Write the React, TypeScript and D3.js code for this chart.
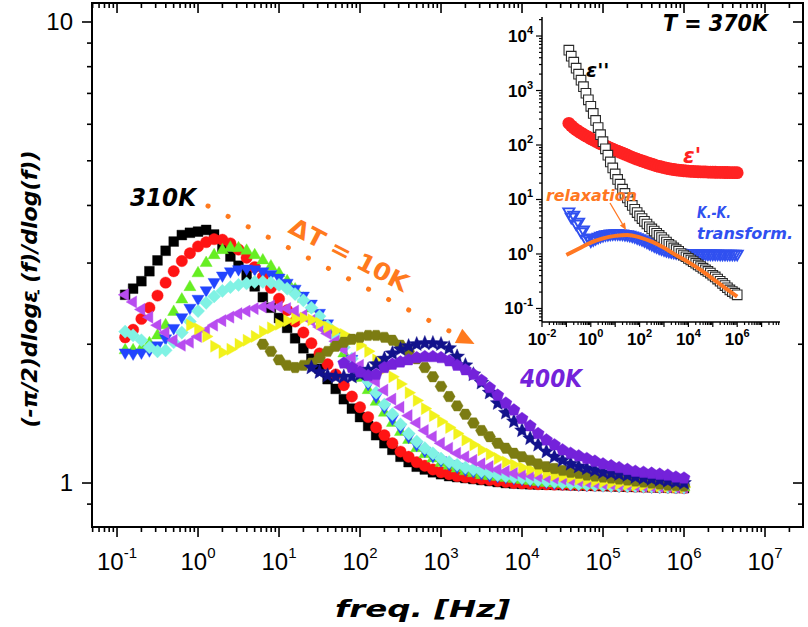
import React from "react";
import * as d3 from "d3";

// ---------- data ----------
// measurement frequencies (Hz), 0.126 Hz .. 1 MHz
const freqs = [
  0.126, 0.158, 0.2, 0.251, 0.316, 0.398, 0.501, 0.631, 0.794,
  1, 1.26, 1.58, 2, 2.51, 3.16, 3.98, 5.01, 6.31, 7.94,
  10, 12.6, 15.8, 20, 25.1, 31.6, 39.8, 50.1, 63.1, 79.4,
  100, 126, 158, 200, 251, 316, 398, 501, 631, 794,
  1e3, 1.26e3, 1.58e3, 2e3, 2.51e3, 3.16e3, 3.98e3, 5.01e3, 6.31e3, 7.94e3,
  1e4, 1.26e4, 1.58e4, 2e4, 2.51e4, 3.16e4, 3.98e4, 5.01e4, 6.31e4, 7.94e4,
  1e5, 1.26e5, 1.58e5, 2e5, 2.51e5, 3.16e5, 3.98e5, 5.01e5, 6.31e5, 7.94e5,
  1e6,
];

const v310 = [
  2.56, 2.64, 2.74, 2.88, 3.04, 3.19, 3.34, 3.45, 3.49,
  3.51, 3.54, 3.46, 3.25, 3.1, 2.96, 2.82, 2.67, 2.53, 2.4,
  2.28, 2.17, 2.06, 1.96, 1.86, 1.77, 1.68, 1.6, 1.52, 1.45,
  1.39, 1.33, 1.27, 1.22, 1.18, 1.14, 1.11, 1.085, 1.07, 1.055,
  1.045, 1.035, 1.03, 1.025, 1.02, 1.015, 1.01, 1.005, 1.0, 0.998,
  0.996, 0.994, 0.993, 0.992, 0.991, 0.99, 0.989, 0.988, 0.987, 0.986,
  0.985, 0.984, 0.983, 0.982, 0.981, 0.98, 0.979, 0.978, 0.977, 0.976,
  0.975,
];
const v320 = [
  2.07, 2.15, 2.27, 2.4, 2.55, 2.72, 2.88, 3.03, 3.15,
  3.26, 3.33, 3.38, 3.37, 3.31, 3.21, 3.08, 2.94, 2.8, 2.65,
  2.51, 2.37, 2.24, 2.12, 2.01, 1.91, 1.81, 1.72, 1.63, 1.54,
  1.46, 1.39, 1.32, 1.27, 1.22, 1.17, 1.14, 1.11, 1.09, 1.07,
  1.055, 1.045, 1.035, 1.03, 1.025, 1.02, 1.015, 1.01, 1.005, 1.0,
  0.998, 0.996, 0.994, 0.993, 0.992, 0.991, 0.99, 0.989, 0.988, 0.987,
  0.986, 0.985, 0.984, 0.983, 0.982, 0.981, 0.98, 0.979, 0.978, 0.977,
  0.976,
];
const v330 = [
  1.94, 1.94, 1.96, 2.01, 2.09, 2.2, 2.35, 2.5, 2.66,
  2.85, 3.0, 3.12, 3.2, 3.24, 3.23, 3.19, 3.12, 3.04, 2.95,
  2.85, 2.74, 2.63, 2.51, 2.39, 2.27, 2.15, 2.03, 1.91, 1.8,
  1.69, 1.59, 1.5, 1.42, 1.35, 1.29, 1.24, 1.19, 1.155, 1.13,
  1.105, 1.09, 1.075, 1.06, 1.05, 1.04, 1.035, 1.03, 1.025, 1.02,
  1.015, 1.01, 1.005, 1.0, 0.998, 0.996, 0.994, 0.992, 0.99, 0.989,
  0.988, 0.987, 0.986, 0.985, 0.984, 0.983, 0.982, 0.981, 0.98, 0.979,
  0.978,
];
const v340 = [
  1.92, 1.91, 1.92, 1.94, 1.99, 2.06, 2.17, 2.29, 2.4,
  2.51, 2.62, 2.73, 2.82, 2.88, 2.91, 2.92, 2.91, 2.88, 2.84,
  2.79, 2.72, 2.64, 2.55, 2.45, 2.34, 2.22, 2.1, 1.98, 1.86,
  1.75, 1.64, 1.54, 1.46, 1.38, 1.32, 1.26, 1.21, 1.175, 1.145,
  1.12, 1.1, 1.085, 1.07, 1.06, 1.05, 1.04, 1.035, 1.03, 1.025,
  1.02, 1.015, 1.01, 1.005, 1.0, 0.998, 0.995, 0.993, 0.991, 0.99,
  0.989, 0.988, 0.987, 0.986, 0.985, 0.984, 0.983, 0.982, 0.981, 0.98,
  0.979,
];
const v350 = [
  2.13, 2.09, 2.04, 1.97, 1.93, 1.94, 2.02, 2.12, 2.24,
  2.36, 2.46, 2.54, 2.61, 2.66, 2.69, 2.71, 2.73, 2.73, 2.72,
  2.69, 2.64, 2.57, 2.49, 2.4, 2.3, 2.19, 2.08, 1.97, 1.86,
  1.76, 1.66, 1.57, 1.48, 1.41, 1.34, 1.28, 1.23, 1.19, 1.16,
  1.13, 1.11, 1.095, 1.08, 1.07, 1.06, 1.05, 1.04, 1.035, 1.03,
  1.025, 1.02, 1.015, 1.01, 1.005, 1.0, 0.997, 0.994, 0.992, 0.99,
  0.988, 0.987, 0.986, 0.985, 0.984, 0.983, 0.982, 0.981, 0.98, 0.979,
  0.978,
];
const v360 = [
  2.56, 2.47, 2.38, 2.29, 2.2, 2.12, 2.04, 1.99, 2.02,
  2.08, 2.14, 2.2, 2.25, 2.29, 2.33, 2.36, 2.39, 2.41, 2.42,
  2.41, 2.39, 2.36, 2.31, 2.25, 2.18, 2.11, 2.03, 1.95, 1.87,
  1.8, 1.73, 1.66, 1.59, 1.52, 1.46, 1.4, 1.35, 1.3, 1.26,
  1.22, 1.19, 1.16, 1.14, 1.12, 1.1, 1.085, 1.07, 1.06, 1.05,
  1.045, 1.04, 1.035, 1.03, 1.025, 1.02, 1.015, 1.01, 1.005, 1.0,
  0.997, 0.994, 0.991, 0.989, 0.987, 0.985, 0.983, 0.982, 0.981, 0.98,
  0.979,
];
// 370K starts at 0.794 Hz
const v370 = [
  2.2,
  2.16, 2.08, 1.98, 1.92, 1.95, 2.0, 2.04, 2.08, 2.13, 2.17,
  2.21, 2.25, 2.27, 2.28, 2.26, 2.22, 2.18, 2.14, 2.1, 2.05,
  1.99, 1.93, 1.85, 1.77, 1.7, 1.64, 1.57, 1.51, 1.45, 1.4,
  1.36, 1.32, 1.28, 1.24, 1.21, 1.18, 1.155, 1.13, 1.11, 1.095,
  1.08, 1.07, 1.06, 1.05, 1.04, 1.035, 1.03, 1.02, 1.015, 1.01,
  1.005, 1.0, 0.997, 0.994, 0.991, 0.989, 0.987, 0.985, 0.983, 0.981,
  0.98,
];
// 380K starts at 6.31 Hz
const v380 = [
  2.0, 1.93,
  1.85, 1.8, 1.78, 1.8, 1.82, 1.87, 1.93, 1.98, 2.02, 2.05,
  2.07, 2.09, 2.09, 2.07, 2.04, 1.99, 1.93, 1.86, 1.78, 1.7,
  1.62, 1.54, 1.47, 1.41, 1.35, 1.3, 1.26, 1.22, 1.19, 1.16,
  1.14, 1.12, 1.1, 1.085, 1.075, 1.065, 1.055, 1.05, 1.04, 1.035,
  1.03, 1.025, 1.02, 1.015, 1.01, 1.005, 1.0, 0.995, 0.99, 0.988,
  0.985,
];
// 390K starts at 25.1 Hz
const v390 = [
  1.78, 1.74, 1.71, 1.7, 1.7, 1.7,
  1.72, 1.76, 1.81, 1.86, 1.91, 1.95, 1.98, 2.0, 2.01, 2.01,
  2.0, 1.96, 1.88, 1.8, 1.72, 1.65, 1.57, 1.49, 1.42, 1.36,
  1.3, 1.25, 1.21, 1.17, 1.14, 1.12, 1.1, 1.085, 1.075, 1.065,
  1.055, 1.05, 1.045, 1.04, 1.03, 1.025, 1.02, 1.015, 1.01, 1.005,
  1.0,
];
// 400K starts at 63.1 Hz
const v400 = [
  1.82, 1.78,
  1.74, 1.71, 1.72, 1.78, 1.81, 1.83, 1.85, 1.87, 1.88, 1.88,
  1.87, 1.84, 1.8, 1.76, 1.72, 1.67, 1.61, 1.55, 1.49, 1.44,
  1.38, 1.33, 1.28, 1.24, 1.21, 1.18, 1.16, 1.145, 1.13, 1.115,
  1.1, 1.09, 1.08, 1.07, 1.06, 1.055, 1.05, 1.045, 1.04, 1.03,
  1.025,
];

const seriesNames = ["310K", "320K", "330K", "340K", "350K", "360K", "370K", "380K", "390K", "400K"];
const seriesValues = [v310, v320, v330, v340, v350, v360, v370, v380, v390, v400];
const seriesStartIndex = [0, 0, 0, 0, 0, 0, 8, 17, 23, 27];
const seriesColors = ["#000000", "#FF1414", "#66EE22", "#2244FF", "#80F2E4", "#B84CF0", "#F2F21C", "#7C7C12", "#12128C", "#7422DA"];
const seriesShapes = ["square", "circle", "up", "down", "diamond", "left", "right", "hexagon", "star", "pentagon"];

// inset, T = 370K
const insetEps2 = [
  5500, 4270, 3310, 2570, 1995, 1550, 1175, 891, 676,
  513, 380, 282, 209, 155, 115, 85, 65, 49, 38,
  29.5, 23.4, 19.1, 15.5, 12.9, 10.7, 9.1, 7.8, 6.6, 5.75,
  5.0, 4.47, 3.98, 3.55, 3.16, 2.88, 2.63, 2.4, 2.19, 2.0,
  1.82, 1.66, 1.51, 1.41, 1.29, 1.2, 1.12, 1.02, 0.955, 0.89,
  0.83, 0.776, 0.724, 0.676, 0.631, 0.589, 0.55, 0.513, 0.479, 0.447,
  0.407, 0.38, 0.347, 0.316, 0.288, 0.263, 0.24, 0.219, 0.204, 0.191,
  0.178,
];
const insetEps1 = [
  250, 225, 205, 190, 177, 166, 156, 147, 139,
  131, 124, 117, 111, 106, 101, 96, 92, 88, 84,
  80, 77, 74, 71, 68, 65, 62, 59.5, 57, 55,
  53, 51, 49.5, 47.5, 46, 44.5, 43, 41.5, 40.5, 39.5,
  38.5, 37.5, 36.8, 36.1, 35.5, 35, 34.5, 34.1, 33.7, 33.4,
  33.1, 32.9, 32.7, 32.5, 32.3, 32.2, 32.1, 32, 31.9, 31.8,
  31.7, 31.6, 31.5, 31.5, 31.4, 31.3, 31.3, 31.2, 31.2, 31.1,
  31,
];
const insetKK = [
  6.0, 4.8, 5.2, 3.6, 3.9, 2.6, 2.8, 1.9, 2.0,
  1.75, 1.85, 1.95, 2.05, 2.15, 2.22, 2.28, 2.32, 2.35, 2.37,
  2.38, 2.38, 2.37, 2.35, 2.32, 2.28, 2.23, 2.17, 2.1, 2.02,
  1.94, 1.86, 1.77, 1.68, 1.6, 1.52, 1.44, 1.37, 1.31, 1.26,
  1.21, 1.17, 1.14, 1.11, 1.09, 1.07, 1.06, 1.05, 1.04, 1.035,
  1.03, 1.025, 1.02, 1.02, 1.02, 1.015, 1.015, 1.015, 1.01, 1.01,
  1.01, 1.01, 1.01, 1.005, 1.005, 1.005, 1.0, 1.0, 1.0, 1.0,
  1.0,
];
const relaxFreqs = [0.1, 0.316, 1, 3.16, 10, 31.6, 100, 316, 1e3, 3.16e3, 1e4, 3.16e4, 1e5, 3.16e5, 1e6];
const relaxVals = [0.96, 1.25, 1.62, 1.93, 2.15, 2.24, 2.02, 1.68, 1.3, 0.95, 0.71, 0.51, 0.35, 0.24, 0.165];

const mainXDecades = [-1, 0, 1, 2, 3, 4, 5, 6, 7];
const mainYLabels = [1, 10];
const insetXLabelDecades = [-2, 0, 2, 4, 6];
const insetYLabelDecades = [-1, 0, 1, 2, 3, 4];

// ---------- scales ----------
const x = d3.scaleLog().domain([10 ** -1.309, 10 ** 7.469]).range([92, 803]);
const y = d3.scaleLog().domain([10 ** -0.0954, 10 ** 1.0412]).range([527, 3]);
const xi = d3.scaleLog().domain([1e-2, 10 ** 7.754]).range([542, 780]);
const yi = d3.scaleLog().domain([10 ** -1.248, 10 ** 4.349]).range([322, 17]);

// ---------- symbols ----------
const deg = Math.PI / 180;
function polyType(n: number, rot: number) {
  return {
    draw(ctx: any, r: number) {
      for (let k = 0; k < n; k++) {
        const a = rot + (k * 2 * Math.PI) / n;
        const px = r * Math.cos(a);
        const py = r * Math.sin(a);
        if (k === 0) ctx.moveTo(px, py);
        else ctx.lineTo(px, py);
      }
      ctx.closePath();
    },
  };
}
const shapeTypes: Record<string, any> = {
  square: { draw(ctx: any, r: number) { ctx.rect(-r, -r, 2 * r, 2 * r); } },
  circle: { draw(ctx: any, r: number) { ctx.moveTo(r, 0); ctx.arc(0, 0, r, 0, 2 * Math.PI); } },
  up: polyType(3, -90 * deg),
  down: polyType(3, 90 * deg),
  left: polyType(3, 180 * deg),
  right: polyType(3, 0),
  diamond: polyType(4, -90 * deg),
  hexagon: polyType(6, 0),
  pentagon: polyType(5, -90 * deg),
  star: {
    draw(ctx: any, r: number) {
      for (let k = 0; k < 10; k++) {
        const rr = k % 2 ? r * 0.45 : r;
        const a = -90 * deg + k * 36 * deg;
        const px = rr * Math.cos(a);
        const py = rr * Math.sin(a);
        if (k === 0) ctx.moveTo(px, py);
        else ctx.lineTo(px, py);
      }
      ctx.closePath();
    },
  },
};
const shapeRadius: Record<string, number> = {
  square: 4.9, circle: 5.7, up: 7.0, down: 7.0, diamond: 6.6, left: 7.0, right: 7.0, hexagon: 6.0, star: 7.8, pentagon: 6.4,
};
const symPath = (shape: string, r: number) => d3.symbol().type(shapeTypes[shape]).size(r)() as string;

function logTicks(lo: number, hi: number) {
  const out: { v: number; major: boolean }[] = [];
  for (let e = Math.floor(Math.log10(lo)) - 1; e <= Math.ceil(Math.log10(hi)) + 1; e++) {
    for (let m = 1; m <= 9; m++) {
      const v = m * 10 ** e;
      if (v >= lo * 0.999 && v <= hi * 1.001) out.push({ v, major: m === 1 });
    }
  }
  return out;
}

const comic = "'DejaVu Sans', sans-serif";
const arial = "'Liberation Sans', Arial, sans-serif";

export default function App() {
  const [x0, x1] = x.range();
  const [yb, yt] = y.range();
  const xt = logTicks(x.domain()[0], x.domain()[1]);
  const ytk = logTicks(y.domain()[0], y.domain()[1]);
  const xit = logTicks(xi.domain()[0], xi.domain()[1]);
  const yit = logTicks(yi.domain()[0], yi.domain()[1]);
  const [xi0, xi1] = xi.range();
  const [yib, yit0] = yi.range();

  const relaxLine = d3
    .line<number>()
    .x((_, i) => xi(relaxFreqs[i]))
    .y((d) => yi(d))
    .curve(d3.curveMonotoneX)(relaxVals) as string;

  // dotted arrow for dT
  const arrowStart: [number, number] = [208, 206];
  const arrowEnd: [number, number] = [455, 334];
  const ang = Math.atan2(arrowEnd[1] - arrowStart[1], arrowEnd[0] - arrowStart[0]);
  const tip: [number, number] = [arrowEnd[0] + 22 * Math.cos(ang), arrowEnd[1] + 22 * Math.sin(ang)];
  const base: [number, number] = [tip[0] - 18 * Math.cos(ang), tip[1] - 18 * Math.sin(ang)];
  const nx = -Math.sin(ang), ny = Math.cos(ang);
  const head = `M${tip[0]},${tip[1]}L${base[0] + 8 * nx},${base[1] + 8 * ny}L${base[0] - 8 * nx},${base[1] - 8 * ny}Z`;

  // small arrow in inset
  const rA: [number, number] = [610, 203];
  const rB: [number, number] = [626, 230];
  const rang = Math.atan2(rB[1] - rA[1], rB[0] - rA[0]);
  const rbase: [number, number] = [rB[0] - 7 * Math.cos(rang), rB[1] - 7 * Math.sin(rang)];
  const rnx = -Math.sin(rang), rny = Math.cos(rang);
  const rhead = `M${rB[0]},${rB[1]}L${rbase[0] + 3 * rnx},${rbase[1] + 3 * rny}L${rbase[0] - 3 * rnx},${rbase[1] - 3 * rny}Z`;

  return (
    <svg width={808} height={627} style={{ position: "absolute", left: 0, top: 0, background: "#fff" }}>
      <rect x={0} y={0} width={808} height={627} fill="#fff" />

      {/* main data */}
      {seriesValues.map((vals, si) => (
        <g key={seriesNames[si]} fill={seriesColors[si]} stroke={seriesColors[si]} strokeWidth={0.4}>
          {vals.map((v, k) => {
            const f = freqs[seriesStartIndex[si] + k];
            return (
              <path
                key={k}
                transform={`translate(${x(f)},${y(v)})`}
                d={symPath(seriesShapes[si], shapeRadius[seriesShapes[si]])}
              />
            );
          })}
        </g>
      ))}

      {/* annotations */}
      <text x={130} y={206} fontFamily={comic} fontSize={25} fontWeight="bold" fontStyle="italic" fill="#000" textLength={66} lengthAdjust="spacingAndGlyphs">310K</text>
      <path d={`M${arrowStart[0]},${arrowStart[1]}L${arrowEnd[0]},${arrowEnd[1]}`} stroke="#FF7A1E" strokeWidth={5} strokeLinecap="round" strokeDasharray="0.1 22.5" fill="none" />
      <path d={head} fill="#FF7A1E" />
      <text transform={`translate(287,232) rotate(${(ang / deg).toFixed(1)})`} fontFamily={comic} fontSize={24} fontWeight={600} fill="#FF7A1E" textLength={131} lengthAdjust="spacingAndGlyphs">ΔT = 10K</text>
      <text x={520} y={387} fontFamily={comic} fontSize={25} fontWeight="bold" fontStyle="italic" fill="#7422DA" textLength={62} lengthAdjust="spacingAndGlyphs">400K</text>

      {/* inset data */}
      <g fill="#FF2222">
        {insetEps1.map((v, k) => (
          <circle key={k} cx={xi(freqs[k])} cy={yi(v)} r={6.4} />
        ))}
      </g>
      <g fill="none" stroke="#3050F0" strokeWidth={1.9}>
        {insetKK.map((v, k) => (
          <path key={k} transform={`translate(${xi(freqs[k])},${yi(v)})`} d={symPath("down", 6.4)} />
        ))}
      </g>
      <g fill="#ffffff" stroke="#2a2a2a" strokeWidth={1.1}>
        {insetEps2.map((v, k) => (
          <path key={k} transform={`translate(${xi(freqs[k])},${yi(v)})`} d={symPath("square", 4.8)} />
        ))}
      </g>
      <path d={relaxLine} fill="none" stroke="#FF7722" strokeWidth={4} />

      {/* inset labels */}
      <text x={663} y={31} fontFamily={comic} fontSize={23} fontWeight="bold" fontStyle="italic" fill="#000" textLength={105} lengthAdjust="spacingAndGlyphs">T = 370K</text>
      <text x={586} y={77} fontFamily={comic} fontSize={20} fontWeight="bold" fontStyle="italic" fill="#000">ε''</text>
      <text x={683} y={163} fontFamily={comic} fontSize={21} fontWeight="bold" fontStyle="italic" fill="#FF2222">ε'</text>
      <text x={546} y={201} fontFamily={comic} fontSize={15} fontWeight="bold" fontStyle="italic" fill="#FF7722" textLength={91} lengthAdjust="spacingAndGlyphs">relaxation</text>
      <path d={`M${rA[0]},${rA[1]}L${rbase[0]},${rbase[1]}`} stroke="#FF7722" strokeWidth={1.3} />
      <path d={rhead} fill="#FF7722" />
      <text x={697} y={218} fontFamily={comic} fontSize={15} fontWeight="bold" fontStyle="italic" fill="#3050F0" textLength={34} lengthAdjust="spacingAndGlyphs">K.-K.</text>
      <text x={697} y={239} fontFamily={comic} fontSize={15} fontWeight="bold" fontStyle="italic" fill="#3050F0" textLength={96} lengthAdjust="spacingAndGlyphs">transform.</text>

      {/* inset axes */}
      <g stroke="#000" strokeWidth={1.5}>
        <line x1={xi0} x2={xi0} y1={yib} y2={yit0} />
        <line x1={xi0} x2={xi1} y1={yib} y2={yib} />
        {xit.map((t, k) => (
          <line key={"xi" + k} x1={xi(t.v)} x2={xi(t.v)} y1={yib} y2={yib + (t.major ? 5 : 3)} strokeWidth={1.2} />
        ))}
        {yit.map((t, k) => (
          <line key={"yi" + k} x1={xi0 - (t.major ? 6 : 3)} x2={xi0} y1={yi(t.v)} y2={yi(t.v)} strokeWidth={1.2} />
        ))}
      </g>
      <g fontFamily={arial} fontWeight="bold" fill="#000">
        {insetXLabelDecades.map((e) => (
          <text key={e} x={xi(10 ** e)} y={345} fontSize={17} textAnchor="middle">
            10<tspan dy={-8} fontSize={11}>{e}</tspan>
          </text>
        ))}
        {insetYLabelDecades.map((e) => (
          <text key={e} x={533} y={yi(10 ** e) + 6} fontSize={17} textAnchor="end">
            10<tspan dy={-8} fontSize={11}>{e}</tspan>
          </text>
        ))}
      </g>

      {/* main axes */}
      <g stroke="#000" strokeWidth={2} fill="none">
        <rect x={x0} y={yt} width={x1 - x0} height={yb - yt} />
        {xt.map((t, k) => (
          <g key={"xt" + k}>
            <line x1={x(t.v)} x2={x(t.v)} y1={yb} y2={yb + (t.major ? 10 : 5)} strokeWidth={1.6} />
            <line x1={x(t.v)} x2={x(t.v)} y1={yt} y2={yt + (t.major ? 10 : 5)} strokeWidth={1.6} />
          </g>
        ))}
        {ytk.map((t, k) => (
          <g key={"yt" + k}>
            <line x1={x0 - (t.major ? 10 : 5)} x2={x0} y1={y(t.v)} y2={y(t.v)} strokeWidth={1.6} />
            <line x1={x1 - (t.major ? 10 : 5)} x2={x1} y1={y(t.v)} y2={y(t.v)} strokeWidth={1.6} />
          </g>
        ))}
      </g>
      <g fontFamily={arial} fill="#000">
        {mainXDecades.map((e) => (
          <text key={e} x={x(10 ** e)} y={570} fontSize={24} textAnchor="middle">
            10<tspan dy={-12} fontSize={15}>{e}</tspan>
          </text>
        ))}
        {mainYLabels.map((v) => (
          <text key={v} x={73} y={y(v) + 8} fontSize={24} textAnchor="end">{v}</text>
        ))}
      </g>

      {/* axis titles */}
      <text x={335} y={617} fontFamily={comic} fontSize={23} fontWeight="bold" fontStyle="italic" fill="#000" textLength={175} lengthAdjust="spacingAndGlyphs">freq. [Hz]</text>
      <text transform="translate(37,289) rotate(-90)" textAnchor="middle" fontFamily={comic} fontSize={21} fontWeight="bold" fontStyle="italic" fill="#000" textLength={277} lengthAdjust="spacingAndGlyphs">(-π/2)dlogε (f)/dlog(f))</text>
      <text x={36} y={302} fontFamily={comic} fontSize={16} fontWeight="bold" fill="#000">'</text>
    </svg>
  );
}
